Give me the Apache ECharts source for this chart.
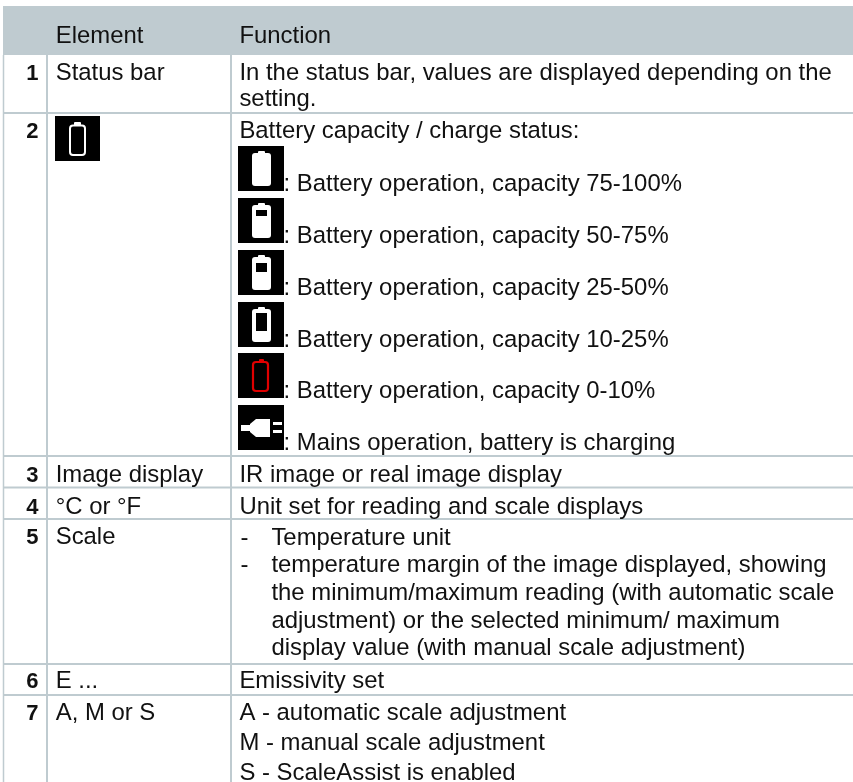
<!DOCTYPE html>
<html>
<head>
<meta charset="utf-8">
<style>html,body{margin:0;padding:0;background:#fff}#c{width:853px;height:782px}</style>
<script src="https://cdn.jsdelivr.net/npm/echarts@6/dist/echarts.min.js"></script>
</head>
<body>
<div id="c"></div>
<script>
// ---- content ----
var headers = ['Element', 'Function'];
var numbers = ['1', '2', '3', '4', '5', '6', '7'];
var elementNames = ['Status bar', '', 'Image display', '°C or °F', 'Scale', 'E ...', 'A, M or S'];
var statusLines = ['In the status bar, values are displayed depending on the', 'setting.'];
var batteryIntro = 'Battery capacity / charge status:';
var batteryLines = [
  ': Battery operation, capacity 75-100%',
  ': Battery operation, capacity 50-75%',
  ': Battery operation, capacity 25-50%',
  ': Battery operation, capacity 10-25%',
  ': Battery operation, capacity 0-10%',
  ': Mains operation, battery is charging'
];
var imageLine = 'IR image or real image display';
var unitLine = 'Unit set for reading and scale displays';
var scaleBullets = ['Temperature unit', 'temperature margin of the image displayed, showing',
  'the minimum/maximum reading (with automatic scale', 'adjustment) or the selected minimum/ maximum',
  'display value (with manual scale adjustment)'];
var emissLine = 'Emissivity set';
var modeLines = ['A - automatic scale adjustment', 'M - manual scale adjustment', 'S - ScaleAssist is enabled'];

// ---- layout ----
var LINE = '#bfcbd0', FS = 23.9, NUM_FS = 22;
var numRight = 38.5, elemX = 55.7, funcX = 239.4, bulletX = 271.4, dashX = 240.5, iconTextX = 283.5;
var colLines = [3.75, 47, 231];
var rowLines = [113, 456, 487.5, 519, 664, 695];
var numBase = [80, 138, 482, 514, 544, 688, 720];
var statusBase = [80, 106];
var introBase = 138;
var iconTops = [146, 198, 250, 302, 353, 405];
var ICON = 45;
var bulletBase = [545, 572, 600, 628, 655];
var modeBase = [720, 750, 780];
var batteryWindows = [null, [12, 6], [13, 9], [11, 18]];

var g = [];
function txt(s, x, base, o) {
  o = o || {};
  var size = o.bold ? NUM_FS : FS;
  g.push({type: 'text', silent: true, z: 5, style: {
    text: s, x: x, y: base - 0.346 * size + 1.8, fill: '#111',
    font: (o.bold ? 'bold ' : '') + size + 'px "Liberation Sans", Arial, sans-serif',
    textAlign: o.align || 'left', textVerticalAlign: 'middle'
  }});
}
function rect(x, y, w, h, fill, r) {
  g.push({type: 'rect', silent: true, z: 3, shape: {x: x, y: y, width: w, height: h, r: r || 0},
    style: {fill: fill}});
}
function outline(x, y, w, h, stroke, lw, r) {
  g.push({type: 'rect', silent: true, z: 3, shape: {x: x, y: y, width: w, height: h, r: r},
    style: {fill: 'none', stroke: stroke, lineWidth: lw}});
}
function battery(top, win) {
  var x = 238;
  rect(x, top, ICON + 1, ICON, '#000');
  rect(x + 20, top + 5, 7, 4, '#fff', 1);
  rect(x + 14, top + 7, 19, 33, '#fff', 3);
  if (win) rect(x + 18, top + win[0], 11, win[1], '#000');
}
rect(3, 6, 850, 49, LINE);
colLines.forEach(function (x) { rect(x - 1, 55, x === colLines[0] ? 1.5 : 2, 727, LINE); });
rowLines.forEach(function (y) { rect(3, y - 1, 850, 2, LINE); });
txt(headers[0], elemX, 43);
txt(headers[1], funcX, 43);
numbers.forEach(function (n, i) {
  txt(n, numRight, numBase[i], {bold: true, align: 'right'});
  if (elementNames[i]) txt(elementNames[i], elemX, numBase[i]);
});
statusLines.forEach(function (s, i) { txt(s, funcX, statusBase[i]); });
txt(batteryIntro, funcX, introBase);
batteryLines.forEach(function (s, i) { txt(s, iconTextX, iconTops[i] + ICON - 0.3); });
txt(imageLine, funcX, numBase[2]);
txt(unitLine, funcX, numBase[3]);
txt('-', dashX, bulletBase[0]);
txt('-', dashX, bulletBase[1]);
scaleBullets.forEach(function (s, i) { txt(s, bulletX, bulletBase[i]); });
txt(emissLine, funcX, numBase[5]);
modeLines.forEach(function (s, i) { txt(s, funcX, modeBase[i]); });
rect(55, 116, 45, 45, '#000');
outline(70, 125.5, 15, 29.5, '#fff', 2, 3);
rect(74, 122, 7, 3.5, '#fff', 1);
batteryWindows.forEach(function (w, i) { battery(iconTops[i], w); });
rect(238, iconTops[4], 46, 45, '#000');
outline(253, iconTops[4] + 9, 15, 29, '#e00000', 2.2, 3);
rect(259, iconTops[4] + 6, 5, 3, '#e00000', 1);
var p = iconTops[5];
rect(238, p, 46, 45, '#000');
rect(241, p + 20, 10, 6, '#fff');
g.push({type: 'polygon', silent: true, z: 3, shape: {points: [[250, p + 19], [256, p + 14], [270, p + 14], [270, p + 32], [256, p + 32], [250, p + 27]]}, style: {fill: '#fff'}});
rect(273, p + 17, 9, 3, '#fff');
rect(273, p + 25, 9, 3, '#fff');

var chart = echarts.init(document.getElementById('c'), null, {renderer: 'canvas'});
chart.setOption({animation: false, backgroundColor: '#fff', graphic: {elements: g}});
</script>
</body>
</html>
